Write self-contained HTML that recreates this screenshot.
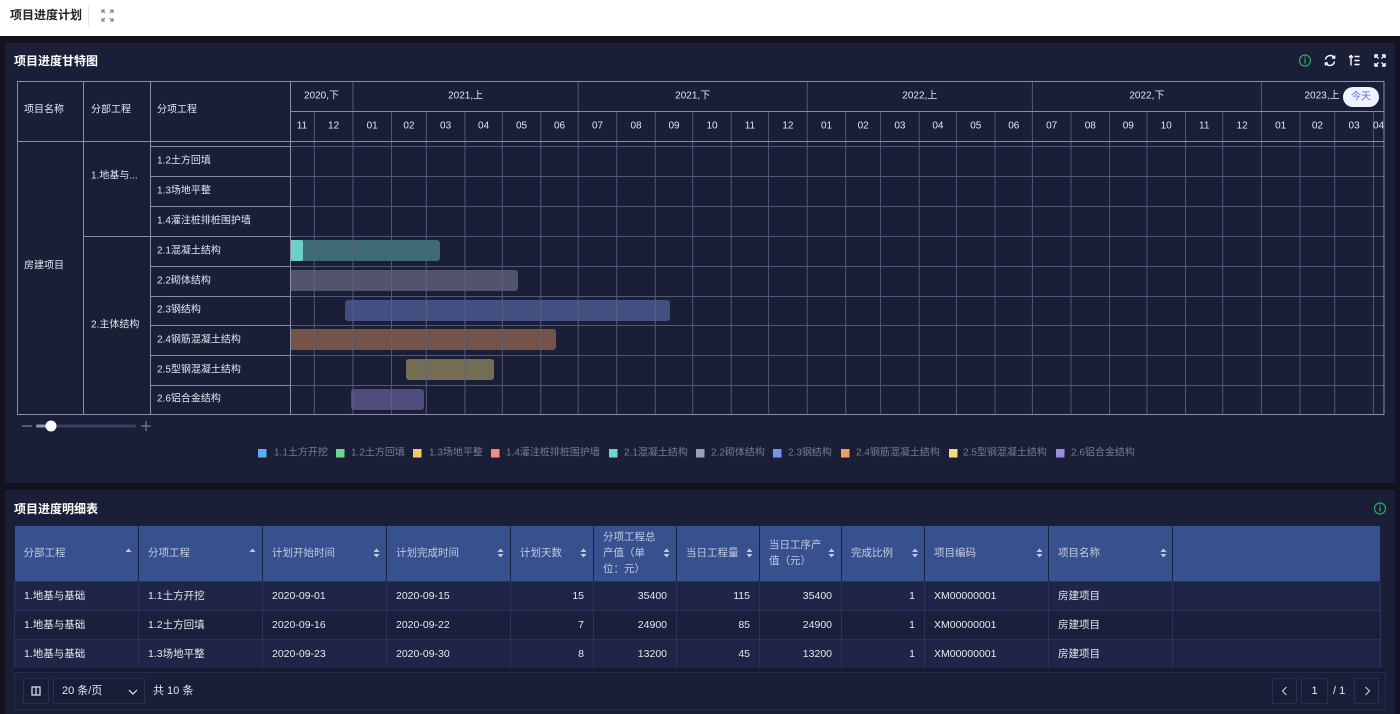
<!DOCTYPE html>
<html><head><meta charset="utf-8">
<style>
*{box-sizing:border-box;margin:0;padding:0}
html,body{width:1400px;height:714px;overflow:hidden;background:#13121e;font-family:"Liberation Sans","Noto Sans CJK SC",sans-serif;position:relative}
.top{position:absolute;left:0;top:0;width:1400px;height:36px;background:#fff}
.top .t{position:absolute;left:10px;top:7px;font-size:12px;font-weight:bold;color:#222;line-height:16px}
.top .sep{position:absolute;left:88px;top:6px;width:1px;height:20px;background:#e6e6e6}
.panel{position:absolute;left:5px;width:1390px;background:#1a1e37}
.ttl{position:absolute;left:14px;font-size:12px;font-weight:bold;color:#fff;line-height:16px}
.tbl{position:absolute;left:14px;top:526px;border-collapse:collapse;table-layout:fixed;width:1366px;font-size:10.5px}
.tbl th{height:55px;background:#37518f;color:#c3cae0;font-weight:normal;text-align:left;padding:0 0 0 9px;border-right:1px solid #1c2244;line-height:16px;vertical-align:middle}
.tbl td{height:29px;padding:0 9px;color:#e6e8ef;border:1px solid #2b335a;white-space:nowrap;line-height:14px}
.tbl tr.a td{background:#1f2546}
.tbl tr.b td{background:#1a1f3b}
.tbl td.r{text-align:right}
.pg{position:absolute;left:14px;top:672px;width:1372px;height:38px;border:1px solid #262c4a;background:#1a1e37}
.btn{position:absolute;top:678px;height:26px;border:1px solid #2a3052;background:#181c34;border-radius:2px;color:#e6e8ef;font-size:11px;line-height:24px}
</style></head>
<body>
<div class="top"><div class="t">项目进度计划</div><div class="sep"></div>
<svg style="position:absolute;left:101px;top:9px" width="13" height="13" viewBox="0 0 13 13" fill="none" stroke="#777" stroke-width="1.1"><path d="M1 4V1h3M9 1h3v3M12 9v3H9M4 12H1V9M1 1l3 3M12 1L9 4M12 12L9 9M1 12l3-3"/></svg>
</div>
<div class="panel" style="top:43px;height:440px"></div>
<div class="panel" style="top:490px;height:224px"></div>
<div class="ttl" style="top:53px">项目进度甘特图</div>
<div class="ttl" style="top:501px">项目进度明细表</div>

<svg width="1400" height="714" style="position:absolute;left:0;top:0" font-family="'Liberation Sans','Noto Sans CJK SC',sans-serif">
<defs><clipPath id="cg"><rect x="290" y="81" width="1094" height="334"/></clipPath></defs>
<!-- bars -->
<g clip-path="url(#cg)">
<rect x="270" y="240" width="170" height="21" rx="3" fill="#6fd6c9" fill-opacity="0.42"/>
<rect x="270" y="240" width="33" height="21" rx="2" fill="#6fd6c9" fill-opacity="0.95"/>
<rect x="270" y="270" width="248" height="21" rx="3" fill="#9ea0b0" fill-opacity="0.42"/>
<rect x="345" y="300" width="325" height="21" rx="3" fill="#7b93e8" fill-opacity="0.42"/>
<rect x="270" y="329" width="286" height="21" rx="3" fill="#f0a060" fill-opacity="0.42"/>
<rect x="406" y="359" width="88" height="21" rx="3" fill="#f1dc7d" fill-opacity="0.42"/>
<rect x="351" y="389" width="73" height="21" rx="3" fill="#9b8ee0" fill-opacity="0.42"/>
</g>
<!-- gantt grid -->
<g stroke="#5d6282" stroke-width="1" fill="none" opacity="0.85">
<path d="M290 141.5H1384M290 146.5H1384M290 176.5H1384M290 206.5H1384M290 236.5H1384M290 266.5H1384M290 296.5H1384M290 325.5H1384M290 355.5H1384M290 385.5H1384"/>
<path d="M314.3 111V414M391.5 111V414M426.3 111V414M464.9 111V414M502.3 111V414M540.8 111V414M616.7 111V414M655.3 111V414M692.7 111V414M731.2 111V414M768.6 111V414M845.7 111V414M880.6 111V414M919.2 111V414M956.5 111V414M995.1 111V414M1071 111V414M1109.6 111V414M1146.9 111V414M1185.5 111V414M1222.8 111V414M1300 111V414M1334.8 111V414M1373.4 111V414"/>
<path d="M352.9 81V414M578.2 81V414M807.2 81V414M1032.4 81V414M1261.4 81V414"/>
</g>
<g stroke="#8a8ea8" stroke-width="1" fill="none">
<path d="M290 111.5H1384M17 141.5H1384"/>
<path d="M150 146.5H290M150 176.5H290M150 206.5H290M83 236.5H290M150 266.5H290M150 296.5H290M150 325.5H290M150 355.5H290M150 385.5H290"/>
<path d="M83.5 81V414M150.5 81V414M290.5 81V414"/>
<rect x="17.5" y="81.5" width="1366.5" height="333"/>
</g>
<!-- left table text -->
<g font-size="10" fill="#e2e5ee" dominant-baseline="central">
<text x="24" y="110">项目名称</text><text x="91" y="110">分部工程</text><text x="157" y="110">分项工程</text>
<text x="24" y="266">房建项目</text>
<text x="91" y="176">1.地基与...</text>
<text x="91" y="325">2.主体结构</text>
<text x="157" y="161">1.2土方回填</text>
<text x="157" y="191">1.3场地平整</text>
<text x="157" y="221">1.4灌注桩排桩围护墙</text>
<text x="157" y="251">2.1混凝土结构</text>
<text x="157" y="281">2.2砌体结构</text>
<text x="157" y="310">2.3钢结构</text>
<text x="157" y="340">2.4钢筋混凝土结构</text>
<text x="157" y="370">2.5型钢混凝土结构</text>
<text x="157" y="399">2.6铝合金结构</text>
</g>
<!-- timeline header text -->
<g font-size="10" fill="#e2e5ee" dominant-baseline="central" text-anchor="middle">
<text x="321.5" y="96">2020,下</text><text x="465.6" y="96">2021,上</text><text x="692.7" y="96">2021,下</text>
<text x="919.8" y="96">2022,上</text><text x="1146.9" y="96">2022,下</text><text x="1322" y="96">2023,上</text>
<text x="302" y="126">11</text><text x="333.6" y="126">12</text>
<text x="372.2" y="126">01</text><text x="408.9" y="126">02</text><text x="445.6" y="126">03</text><text x="483.6" y="126">04</text><text x="521.5" y="126">05</text><text x="559.5" y="126">06</text>
<text x="597.5" y="126">07</text><text x="636" y="126">08</text><text x="674" y="126">09</text><text x="712" y="126">10</text><text x="749.9" y="126">11</text><text x="787.9" y="126">12</text>
<text x="826.5" y="126">01</text><text x="863.2" y="126">02</text><text x="899.9" y="126">03</text><text x="937.9" y="126">04</text><text x="975.8" y="126">05</text><text x="1013.8" y="126">06</text>
<text x="1051.7" y="126">07</text><text x="1090.3" y="126">08</text><text x="1128.3" y="126">09</text><text x="1166.2" y="126">10</text><text x="1204.2" y="126">11</text><text x="1242.1" y="126">12</text>
<text x="1280.7" y="126">01</text><text x="1317.4" y="126">02</text><text x="1354.1" y="126">03</text>
<text x="1373" y="126" text-anchor="start">04</text>
</g>
<!-- today pill -->
<rect x="1343" y="87" width="36" height="20" rx="10" fill="#eef3ff"/>
<text x="1361" y="97" font-size="10" fill="#4a78dc" text-anchor="middle" dominant-baseline="central">今天</text>
<!-- top-right icons -->
<circle cx="1305" cy="60.5" r="5.5" fill="none" stroke="#2bab62" stroke-width="1.2"/>
<path d="M1305 59v4.5" stroke="#2bab62" stroke-width="1.3"/><circle cx="1305" cy="57.2" r="0.8" fill="#2bab62"/>
<g fill="none" stroke="#fff" stroke-width="1.4">
<path d="M1325.5 59.5a4.7 4.7 0 0 1 8.6-1.8M1334.5 61.5a4.7 4.7 0 0 1-8.6 1.8"/>
<path d="M1334.6 55.5v2.6h-2.6M1325.4 65.5v-2.6h2.6"/>
<path d="M1351 65.5V55.5M1349 57.5l2-2 2 2M1354.5 56.5h5M1354.5 60.5h5M1354.5 64.5h5"/>
<path d="M1375 58v-3h3M1382 55h3v3M1385 63v3h-3M1378 66h-3v-3M1375.5 55.5l3 3M1384.5 55.5l-3 3M1384.5 65.5l-3-3M1375.5 65.5l3-3"/>
</g>
<circle cx="1380" cy="508.5" r="5.5" fill="none" stroke="#2bab62" stroke-width="1.2"/>
<path d="M1380 507v4.5" stroke="#2bab62" stroke-width="1.3"/><circle cx="1380" cy="505.2" r="0.8" fill="#2bab62"/>
<!-- slider -->
<path d="M22 426h10M141 426h10M146 421v10" stroke="#777c95" stroke-width="1.2"/>
<rect x="36" y="424.5" width="100" height="3" rx="1.5" fill="#3a3f5c"/>
<rect x="36" y="424.5" width="15" height="3" rx="1.5" fill="#9095ab"/>
<circle cx="51" cy="426" r="5.5" fill="#fff"/>
<!-- legend -->
<g font-size="10" fill="#777c93" dominant-baseline="central">
<rect x="258" y="449" width="8.5" height="8.5" fill="#5aaef5"/><text x="274" y="453">1.1土方开挖</text>
<rect x="336" y="449" width="8.5" height="8.5" fill="#6fd68d"/><text x="351" y="453">1.2土方回填</text>
<rect x="413" y="449" width="8.5" height="8.5" fill="#f7c86a"/><text x="429" y="453">1.3场地平整</text>
<rect x="491" y="449" width="8.5" height="8.5" fill="#f48a7c"/><text x="506" y="453">1.4灌注桩排桩围护墙</text>
<rect x="609" y="449" width="8.5" height="8.5" fill="#6fd6c9"/><text x="624" y="453">2.1混凝土结构</text>
<rect x="696" y="449" width="8.5" height="8.5" fill="#9ea0b0"/><text x="711" y="453">2.2砌体结构</text>
<rect x="773" y="449" width="8.5" height="8.5" fill="#7b93e8"/><text x="788" y="453">2.3钢结构</text>
<rect x="841" y="449" width="8.5" height="8.5" fill="#f0a060"/><text x="856" y="453">2.4钢筋混凝土结构</text>
<rect x="949" y="449" width="8.5" height="8.5" fill="#f1dc7d"/><text x="963" y="453">2.5型钢混凝土结构</text>
<rect x="1056" y="449" width="8.5" height="8.5" fill="#9b8ee0"/><text x="1071" y="453">2.6铝合金结构</text>
</g>
</svg>

<table class="tbl">
<colgroup><col style="width:124px"><col style="width:124px"><col style="width:124px"><col style="width:124px"><col style="width:83px"><col style="width:83px"><col style="width:83px"><col style="width:82px"><col style="width:83px"><col style="width:124px"><col style="width:124px"><col style="width:208px"></colgroup>
<tr><th>分部工程</th><th>分项工程</th><th>计划开始时间</th><th>计划完成时间</th><th>计划天数</th><th>分项工程总<br>产值（单<br>位：元）</th><th>当日工程量</th><th>当日工序产<br>值（元）</th><th>完成比例</th><th>项目编码</th><th>项目名称</th><th></th></tr>
<tr class="a"><td>1.地基与基础</td><td>1.1土方开挖</td><td>2020-09-01</td><td>2020-09-15</td><td class="r">15</td><td class="r">35400</td><td class="r">115</td><td class="r">35400</td><td class="r">1</td><td>XM00000001</td><td>房建项目</td><td></td></tr>
<tr class="b"><td>1.地基与基础</td><td>1.2土方回填</td><td>2020-09-16</td><td>2020-09-22</td><td class="r">7</td><td class="r">24900</td><td class="r">85</td><td class="r">24900</td><td class="r">1</td><td>XM00000001</td><td>房建项目</td><td></td></tr>
<tr class="a"><td>1.地基与基础</td><td>1.3场地平整</td><td>2020-09-23</td><td>2020-09-30</td><td class="r">8</td><td class="r">13200</td><td class="r">45</td><td class="r">13200</td><td class="r">1</td><td>XM00000001</td><td>房建项目</td><td></td></tr>
</table>

<svg width="1400" height="714" style="position:absolute;left:0;top:0" fill="#c3cae0">
<path d="M125.5 552l3-3.5 3 3.5z M249.5 552l3-3.5 3 3.5z"/>
<g>
<path d="M373.5 552l3-3.5 3 3.5zM373.5 554l3 3.5 3-3.5z"/>
<path d="M497.5 552l3-3.5 3 3.5zM497.5 554l3 3.5 3-3.5z"/>
<path d="M580.5 552l3-3.5 3 3.5zM580.5 554l3 3.5 3-3.5z"/>
<path d="M663.5 552l3-3.5 3 3.5zM663.5 554l3 3.5 3-3.5z"/>
<path d="M746.5 552l3-3.5 3 3.5zM746.5 554l3 3.5 3-3.5z"/>
<path d="M828.5 552l3-3.5 3 3.5zM828.5 554l3 3.5 3-3.5z"/>
<path d="M912 552l3-3.5 3 3.5zM912 554l3 3.5 3-3.5z"/>
<path d="M1036.5 552l3-3.5 3 3.5zM1036.5 554l3 3.5 3-3.5z"/>
<path d="M1160.5 552l3-3.5 3 3.5zM1160.5 554l3 3.5 3-3.5z"/>
</g>
</svg>

<div style="position:absolute;left:14px;top:668px;width:1372px;height:4px;background:#161a30"></div>
<div class="pg"></div>
<div class="btn" style="left:23px;width:26px"><svg width="24" height="24" style="position:absolute;left:0;top:0" fill="none" stroke="#e6e8ef" stroke-width="1.2"><rect x="8" y="8" width="8" height="8"/><path d="M12 8v8"/></svg></div>
<div class="btn" style="left:53px;width:92px;padding-left:8px">20 条/页<svg width="12" height="12" style="position:absolute;left:73px;top:7px" fill="none" stroke="#e6e8ef" stroke-width="1.2"><path d="M2 4l4 4 4-4"/></svg></div>
<div style="position:absolute;left:153px;top:678px;line-height:26px;font-size:11px;color:#e6e8ef">共 10 条</div>
<div class="btn" style="left:1272px;width:25px"><svg width="24" height="24" style="position:absolute;left:0;top:0" fill="none" stroke="#c3c7d6" stroke-width="1.2"><path d="M13.5 8l-4 4 4 4"/></svg></div>
<div class="btn" style="left:1301px;width:27px;text-align:center">1</div>
<div style="position:absolute;left:1333px;top:678px;line-height:26px;font-size:11px;color:#e6e8ef">/ 1</div>
<div class="btn" style="left:1354px;width:25px"><svg width="24" height="24" style="position:absolute;left:0;top:0" fill="none" stroke="#c3c7d6" stroke-width="1.2"><path d="M10.5 8l4 4-4 4"/></svg></div>
</body></html>
